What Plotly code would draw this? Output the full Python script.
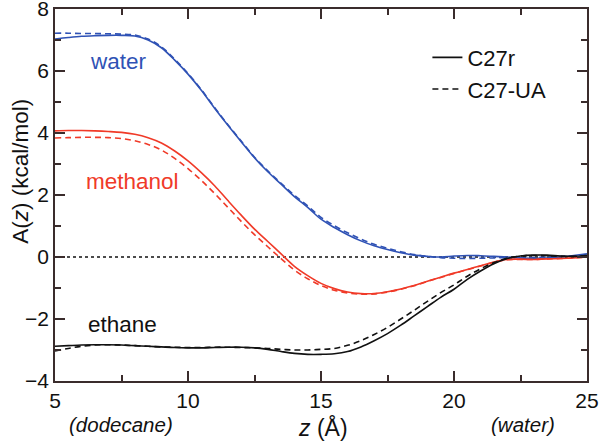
import plotly.graph_objects as go

z = [5, 5.5, 6, 6.5, 7, 7.5, 8, 8.5, 9, 9.5, 10, 10.5, 11, 11.5, 12, 12.5, 13, 13.5, 14, 14.5,
     15, 15.5, 16, 16.5, 17, 17.5, 18, 18.5, 19, 19.5, 20, 20.5, 21, 21.5, 22, 22.5, 23, 23.5, 24, 24.5, 25]

water_c27r = [7.03, 7.08, 7.12, 7.14, 7.15, 7.15, 7.13, 7.0, 6.75, 6.35, 5.9, 5.38, 4.8, 4.25, 3.72, 3.2,
              2.75, 2.35, 1.95, 1.6, 1.22, 0.95, 0.72, 0.52, 0.36, 0.24, 0.14, 0.06, 0.02, 0.0, 0.03, 0.05,
              0.04, 0.02, 0.0, -0.03, -0.05, -0.03, 0.0, 0.05, 0.1]
water_ua = [7.22, 7.22, 7.21, 7.21, 7.2, 7.19, 7.16, 7.03, 6.78, 6.38, 5.92, 5.4, 4.82, 4.27, 3.74, 3.22,
            2.78, 2.38, 1.99, 1.65, 1.28, 1.01, 0.78, 0.58, 0.41, 0.28, 0.17, 0.08, 0.02, -0.02, -0.04, -0.05,
            -0.04, -0.03, -0.02, -0.03, -0.02, 0.0, 0.02, 0.04, 0.06]

methanol_c27r = [4.07, 4.08, 4.08, 4.07, 4.05, 4.02, 3.96, 3.85, 3.68, 3.42, 3.1, 2.72, 2.3, 1.82, 1.35, 0.9,
                 0.5, 0.1, -0.3, -0.6, -0.85, -1.02, -1.13, -1.18, -1.18, -1.12, -1.03, -0.92, -0.78, -0.65,
                 -0.52, -0.4, -0.28, -0.16, -0.08, -0.07, -0.08, -0.06, -0.05, -0.03, 0.0]
methanol_ua = [3.84, 3.85, 3.86, 3.86, 3.85, 3.82, 3.75, 3.63, 3.45, 3.18, 2.85, 2.47, 2.05, 1.6, 1.15, 0.72,
               0.33, -0.05, -0.42, -0.7, -0.92, -1.07, -1.16, -1.2, -1.19, -1.13, -1.04, -0.93, -0.79, -0.66,
               -0.53, -0.41, -0.29, -0.17, -0.09, -0.08, -0.08, -0.06, -0.05, -0.03, 0.0]

ethane_c27r = [-2.88, -2.86, -2.84, -2.83, -2.83, -2.84, -2.86, -2.88, -2.9, -2.92, -2.93, -2.93, -2.92,
               -2.91, -2.91, -2.93, -2.98, -3.05, -3.11, -3.14, -3.14, -3.12, -3.05, -2.9, -2.7, -2.47,
               -2.2, -1.9, -1.6, -1.3, -1.04, -0.72, -0.45, -0.22, -0.05, 0.03, 0.06, 0.06, 0.03, 0.02, 0.05]
ethane_ua = [-3.03, -2.95, -2.88, -2.84, -2.83, -2.84, -2.86, -2.88, -2.9, -2.91, -2.92, -2.92, -2.91,
             -2.91, -2.92, -2.93, -2.95, -2.98, -3.0, -3.0, -2.98, -2.95, -2.85, -2.7, -2.5, -2.27,
             -2.0, -1.72, -1.43, -1.15, -0.9, -0.62, -0.38, -0.18, -0.04, 0.03, 0.05, 0.04, 0.02, 0.02, 0.05]

BLUE = "#2f52b5"
RED = "#f03a28"
BLACK = "#111111"
FRAME = "#3a2c2c"
FONT = "Liberation Sans, Arial, sans-serif"

series = [
    ("water", water_c27r, water_ua, BLUE),
    ("methanol", methanol_c27r, methanol_ua, RED),
    ("ethane", ethane_c27r, ethane_ua, BLACK),
]

fig = go.Figure()

# zero reference line
fig.add_trace(go.Scatter(x=[z[0], z[-1]], y=[0, 0], mode="lines",
                         line=dict(color="#111", width=1.5, dash="dot"),
                         showlegend=False, hoverinfo="skip"))

for name, solid, dashed, col in series:
    fig.add_trace(go.Scatter(x=z, y=dashed, mode="lines",
                             line=dict(color=col, width=1.6, dash="6px,4px", shape="spline"),
                             showlegend=False, name=name + " C27-UA"))
    fig.add_trace(go.Scatter(x=z, y=solid, mode="lines",
                             line=dict(color=col, width=1.6, shape="spline"),
                             showlegend=False, name=name + " C27r"))

# legend entries
fig.add_trace(go.Scatter(x=[None], y=[None], mode="lines", name="C27r",
                         line=dict(color=BLACK, width=1.6)))
fig.add_trace(go.Scatter(x=[None], y=[None], mode="lines", name="C27-UA",
                         line=dict(color=BLACK, width=1.6, dash="6px,4px")))

# series labels
label_pos = {"water": (7.37, 6.3), "methanol": (7.9, 2.45), "ethane": (7.52, -2.18)}
for name, _, _, col in series:
    lx, ly = label_pos[name]
    fig.add_annotation(x=lx, y=ly, text=name, showarrow=False,
                       font=dict(size=22.5, color=col, family=FONT))

fig.add_annotation(x=0.124, xref="paper", y=-0.118, yref="paper", text="<i>(dodecane)</i>",
                   showarrow=False, yanchor="middle", xanchor="center",
                   font=dict(size=20.5, color="#111", family=FONT))
fig.add_annotation(x=0.88, xref="paper", y=-0.118, yref="paper", text="<i>(water)</i>",
                   showarrow=False, yanchor="middle", xanchor="center",
                   font=dict(size=20.5, color="#111", family=FONT))
# axis titles
fig.add_annotation(x=0.504, xref="paper", y=-0.124, yref="paper", text="<i>z</i> (Å)",
                   showarrow=False, yanchor="middle", xanchor="center",
                   font=dict(size=23, color="#111", family=FONT))
fig.add_annotation(x=-0.064, xref="paper", y=0.565, yref="paper", text="A(<i>z</i>) (kcal/mol)",
                   showarrow=False, yanchor="middle", xanchor="center", textangle=-90,
                   font=dict(size=22.5, color="#111", family=FONT))

axis_common = dict(
    showgrid=False, zeroline=False, showline=True, linecolor=FRAME, linewidth=1.5,
    mirror="allticks", ticks="inside", ticklen=10, tickwidth=1.5, tickcolor=FRAME,
    tickfont=dict(size=21, color="#111", family=FONT), ticklabeloverflow="allow",
    automargin=False,
)

fig.update_xaxes(range=[5, 25], tick0=5, dtick=5,
                 minor=dict(dtick=2.5, ticks="inside", ticklen=6, tickwidth=1.5, tickcolor=FRAME),
                 **axis_common)
fig.update_yaxes(range=[-4, 8], tick0=-4, dtick=2,
                 minor=dict(dtick=1, ticks="inside", ticklen=6, tickwidth=1.5, tickcolor=FRAME),
                 **axis_common)

fig.update_layout(
    width=600, height=442,
    margin=dict(l=55, r=13, t=9, b=61, autoexpand=False),
    plot_bgcolor="white", paper_bgcolor="white",
    legend=dict(x=0.7, y=0.926, xanchor="left", yanchor="top", bgcolor="rgba(0,0,0,0)",
                font=dict(size=22, color="#111", family=FONT),
                tracegroupgap=2),
)

fig.write_html("out.html", config={"displayModeBar": False},
               post_script="document.body.style.margin='0';document.body.style.overflow='hidden';")
